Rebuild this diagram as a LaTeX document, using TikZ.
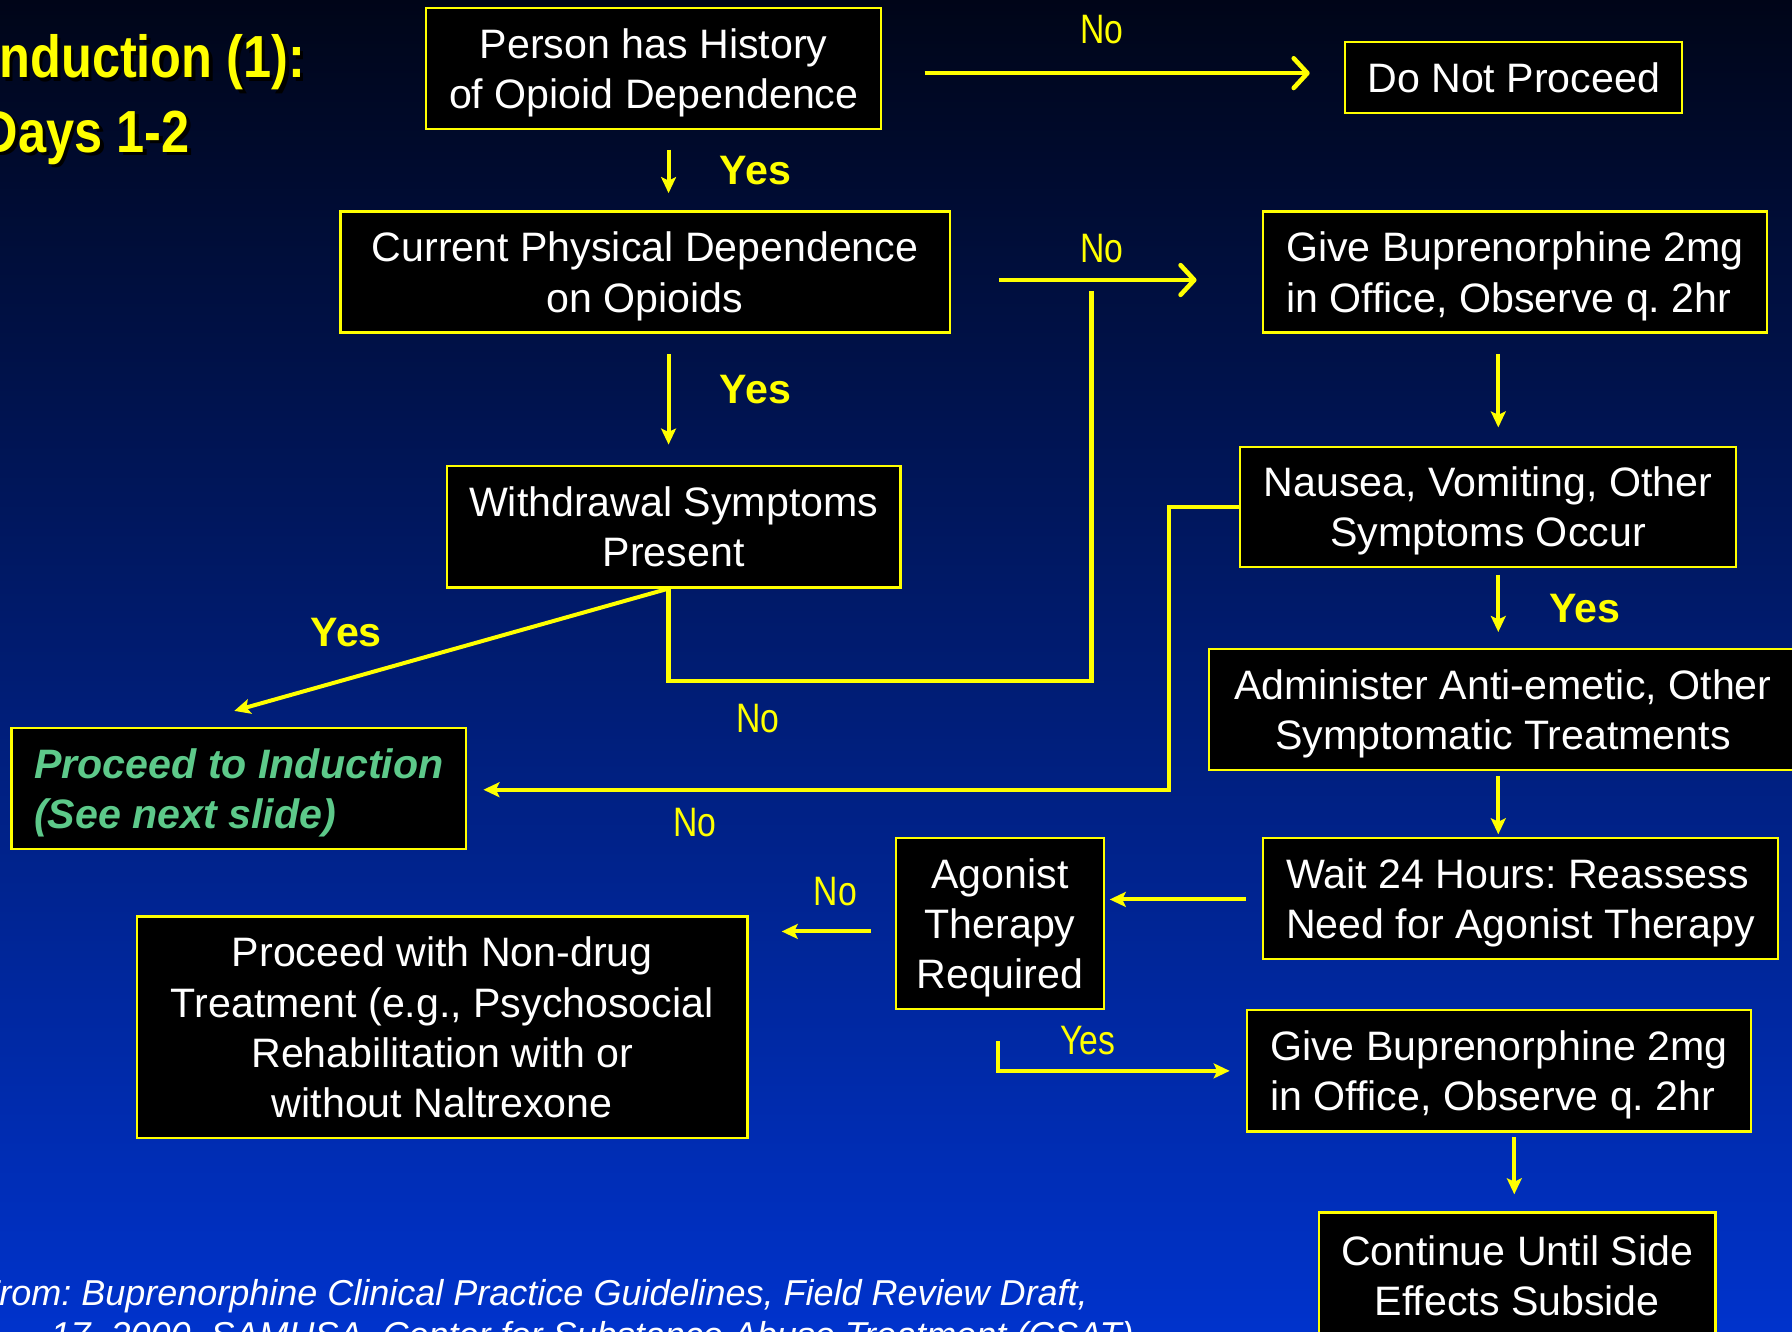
\documentclass[tikz,border=0pt]{standalone}
\usepackage{fontspec}
\setmainfont{Liberation Sans}
\newfontfamily\narrowfont[FakeStretch=0.82]{Liberation Sans}
\newfontfamily\titlefont[FakeStretch=0.85]{Liberation Sans}
\usetikzlibrary{arrows.meta,calc}
\definecolor{bgtop}{RGB}{0,5,24}
\definecolor{bgmid}{RGB}{3,40,150}
\definecolor{bgbot}{RGB}{0,51,204}
\definecolor{ylw}{RGB}{255,255,0}
\definecolor{grn}{RGB}{93,201,138}
\begin{document}
\frenchspacing
\begin{tikzpicture}[x=1pt,y=-1pt,
  box/.style={draw=ylw,line width=2pt,fill=black,text=white,
    font=\fontsize{36}{44}\selectfont,align=center,inner sep=0pt,text depth=0pt},
  arr/.style={draw=ylw,line width=3.5pt,-{Stealth[length=14pt,width=13pt,inset=3pt]}},
  chev/.style={draw=ylw,line width=4pt,-{Straight Barb[length=12pt,width=26pt,round]}},
  lnk/.style={draw=ylw,line width=4pt},
  yes/.style={text=ylw,font=\bfseries\fontsize{36}{40}\selectfont,inner sep=0pt,anchor=base},
  no/.style={text=ylw,font=\narrowfont\fontsize{36}{40}\selectfont,inner sep=0pt,anchor=base},
  ttl/.style={anchor=base west,inner sep=0pt,font=\titlefont\bfseries\fontsize{52}{60}\selectfont},
  src/.style={anchor=base west,inner sep=0pt,text=white,font=\itshape\fontsize{31.5}{36}\selectfont}
]
\useasboundingbox (0,0) rectangle (1568,1165);
\clip (0,0) rectangle (1568,1165);
\shade[top color=bgtop,middle color=bgmid,bottom color=bgbot] (0,0) rectangle (1568,1165);

% title
\node[ttl,text=black] (t1s) at (-10,71) {Induction (1):};
\node[ttl,text=ylw] (t1) at (-13,68) {Induction (1):};
\node[ttl,text=black] (t2s) at (-13,136) {Days 1-2};
\node[ttl,text=ylw] (t2) at (-16,133) {Days 1-2};

% boxes
\node[box,minimum width=398pt,minimum height=106pt] (person) at (572,60) {Person has History\\of Opioid Dependence};
\node[box,minimum width=295pt,minimum height=62pt] (dnp) at (1324.5,68) {Do Not Proceed};
\node[box,minimum width=533pt,minimum height=106pt] (current) at (564.5,238) {Current Physical Dependence\\on Opioids};
\node[box,align=left,minimum width=441pt,minimum height=106pt] (give1) at (1325.5,238) {Give Buprenorphine 2mg\\in Office, Observe q. 2hr};
\node[box,minimum width=397pt,minimum height=106pt] (withdrawal) at (589.5,461) {Withdrawal Symptoms\\Present};
\node[box,minimum width=434pt,minimum height=105pt] (nausea) at (1302,443.5) {Nausea, Vomiting, Other\\Symptoms Occur};
\node[box,minimum width=514pt,minimum height=106pt] (admin) at (1315,621) {Administer Anti-emetic, Other\\Symptomatic Treatments};
\node[box,align=left,text=grn,font=\bfseries\itshape\fontsize{36}{44}\selectfont,minimum width=398pt,minimum height=106pt] (induct) at (209,690) {Proceed to Induction\\(See next slide)};
\node[box,align=left,minimum width=451pt,minimum height=106pt] (wait) at (1330.5,786) {Wait 24 Hours: Reassess\\Need for Agonist Therapy};
\node[box,minimum width=182pt,minimum height=150pt] (agonist) at (875,808) {Agonist\\Therapy\\Required};
\node[box,minimum width=534pt,minimum height=194pt] (nondrug) at (387,899) {Proceed with Non-drug\\Treatment (e.g., Psychosocial\\Rehabilitation with or\\without Naltrexone};
\node[box,align=left,minimum width=441pt,minimum height=106pt] (give2) at (1311.5,937) {Give Buprenorphine 2mg\\in Office, Observe q. 2hr};
\node[box,minimum width=347pt,minimum height=110pt] (cont) at (1327.5,1116) {Continue Until Side\\Effects Subside};

% helper coordinates
\coordinate (x585) at (585,0);
\coordinate (x1311) at (1311,0);
\coordinate (x1325) at (1325,0);
\coordinate (x873) at (873,0);
\coordinate (y64) at (0,64);
\coordinate (y245) at (0,245);
\coordinate (y787) at (0,787);
\coordinate (y815) at (0,815);
\coordinate (wb) at (withdrawal.south -| x585);
\coordinate (indtip) at (205,622);
\coordinate (nojoin) at (955,596);
\coordinate (noend) at (955,255);
\coordinate (nc) at (1023,691);

% connectors
\draw[arr,shorten <=17pt,shorten >=15pt] (person.south -| x585) -- (current.north -| x585);
\draw[chev,shorten <=37pt,shorten >=30pt] (person.east |- y64) -- (dnp.west |- y64);
\draw[chev,shorten <=42pt,shorten >=57pt] (current.east |- y245) -- (give1.west |- y245);
\draw[arr,shorten <=18pt,shorten >=18pt] (current.south -| x585) -- (withdrawal.north -| x585);
\draw[arr] (wb) -- (indtip);
\draw[lnk] (wb) |- (nojoin) -- (noend);
\draw[arr,shorten <=18pt,shorten >=16pt] (give1.south -| x1311) -- (nausea.north -| x1311);
\draw[arr,shorten <=6pt,shorten >=14pt] (nausea.south -| x1311) -- (admin.north -| x1311);
\draw[arr,shorten >=14pt] (nausea.west) -| (nc) -- (induct.east |- nc);
\draw[arr,shorten <=4pt,shorten >=2pt] (admin.south -| x1311) -- (wait.north -| x1311);
\draw[arr,shorten <=14pt,shorten >=4pt] (wait.west |- y787) -- (agonist.east |- y787);
\draw[arr,shorten <=21pt,shorten >=29pt] (agonist.west |- y815) -- (nondrug.east |- y815);
\draw[arr,shorten <=27pt,shorten >=14pt] (agonist.south -| x873) |- (give2.west);
\draw[arr,shorten <=4pt,shorten >=15pt] (give2.south -| x1325) -- (cont.north -| x1325);

% labels
\node[yes] (ly1) at (661,161) {Yes};
\node[yes] (ly2) at (661,353) {Yes};
\node[no] (ln1) at (964,38) {No};
\node[no] (ln2) at (964,230) {No};
\node[yes] (ly3) at (303,566) {Yes};
\node[no] (ln3) at (663,641) {No};
\node[yes] (ly4) at (1387,545) {Yes};
\node[no] (ln4) at (608,732) {No};
\node[no] (ln5) at (731,792) {No};
\node[no] (ly5) at (952,923) {Yes};

% source
\node[src] (s1) at (-20,1142) {From: Buprenorphine Clinical Practice Guidelines, Field Review Draft,};
\node[src] (s2) at (44,1179) {17, 2000, SAMHSA, Center for Substance Abuse Treatment (CSAT)};
\end{tikzpicture}
\end{document}
